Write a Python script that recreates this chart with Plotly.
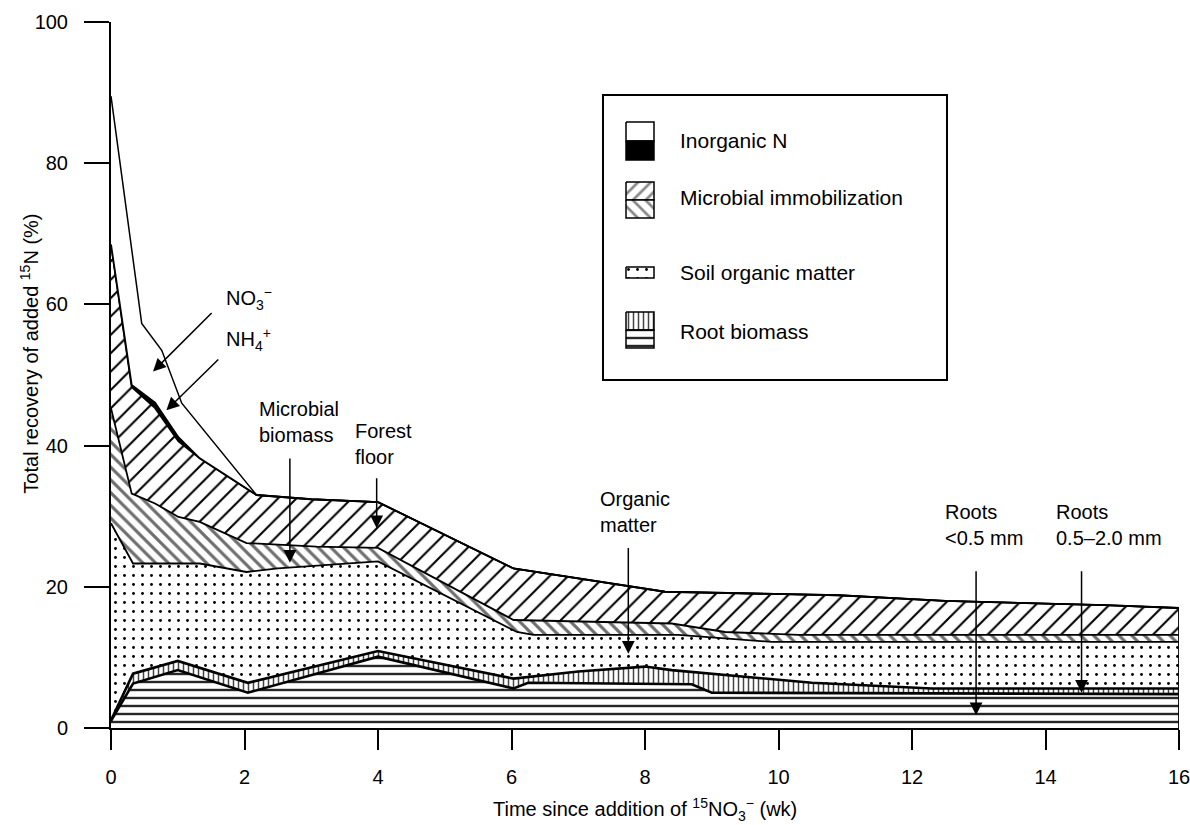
import plotly.graph_objects as go

FONT = "Liberation Sans, Arial, Helvetica, sans-serif"

# ---------------- data ----------------
# axis ticks
week_ticks = [0, 2, 4, 6, 8, 10, 12, 14, 16]
pct_ticks = [0, 20, 40, 60, 80, 100]

# upper boundary (cumulative % recovery) of each pool, stacked bottom -> top
roots_fine_t = [0, 0.33, 1.0, 2.05, 4.0, 6.03, 6.25, 8.7, 9.0, 16]
roots_fine_top = [1.0, 6.3, 8.2, 5.0, 10.1, 5.6, 6.4, 6.2, 5.0, 4.8]

roots_coarse_t = [0, 0.33, 1.0, 2.05, 4.0, 6.03, 7.0, 8.0, 8.4, 9.0, 10.0, 10.5, 12.3, 16]
roots_coarse_top = [1.1, 7.7, 9.5, 6.4, 10.9, 7.0, 8.0, 8.7, 8.2, 7.7, 6.8, 6.4, 5.6, 5.6]

som_t = [0, 0.33, 1.33, 2.03, 2.5, 4.0, 6.08, 6.33, 8.5, 9.9, 16]
som_top = [29.0, 23.3, 23.3, 22.1, 22.6, 23.6, 13.6, 13.2, 13.2, 12.2, 12.2]

microbial_t = [0, 0.31, 0.66, 1.01, 1.33, 2.03, 3.08, 4.0, 6.03, 8.4, 9.2, 10.3, 16]
microbial_top = [45.3, 33.2, 31.8, 29.9, 29.2, 26.2, 25.7, 25.5, 15.3, 14.8, 13.6, 13.2, 13.2]

forest_t = [0, 0.31, 0.66, 1.01, 1.33, 2.18, 3.0, 4.0, 6.03, 8.3, 10.9, 12.5, 14.9, 16]
forest_top = [68.5, 48.3, 45.3, 40.6, 38.2, 33.0, 32.4, 32.0, 22.6, 19.3, 18.8, 18.0, 17.4, 17.0]

nh4_t = [0.31, 0.66, 1.01, 1.33]
nh4_thickness = [0.3, 0.8, 0.6, 0.0]

no3_t = [0, 0.46, 0.76, 1.06, 2.18]
no3_top = [89.5, 57.3, 53.5, 46.0, 33.0]

# derived boundaries for the inorganic N bands
nh4_map = dict(zip(nh4_t, nh4_thickness))
nh4_top_t = list(forest_t)
nh4_top = [v + nh4_map.get(t, 0.0) for t, v in zip(forest_t, forest_top)]
inorg_t = no3_t + [t for t in forest_t if t > no3_t[-1]]
inorg_top = no3_top + [v for t, v in zip(forest_t, forest_top) if t > no3_t[-1]]

# ---------------- styles ----------------
PAT_HLINE = dict(shape="-", fgcolor="#262626", bgcolor="white", size=8, solidity=0.3, fgopacity=1)
PAT_VLINE = dict(shape="|", fgcolor="#444444", bgcolor="white", size=5, solidity=0.3, fgopacity=1)
PAT_DOT = dict(shape=".", fgcolor="black", bgcolor="white", size=9, solidity=0.08, fgopacity=1)
PAT_BACK = dict(shape="\\", fgcolor="#6e6e6e", bgcolor="white", size=9, solidity=0.35, fgopacity=1)
PAT_FWD = dict(shape="/", fgcolor="black", bgcolor="white", size=13, solidity=0.16, fgopacity=1)

layers = [
    ("Roots <0.5 mm", roots_fine_t, roots_fine_top, PAT_HLINE, None, 2.6),
    ("Roots 0.5-2.0 mm", roots_coarse_t, roots_coarse_top, PAT_VLINE, None, 2.6),
    ("Soil organic matter", som_t, som_top, PAT_DOT, None, 1.8),
    ("Microbial biomass", microbial_t, microbial_top, PAT_BACK, None, 1.8),
    ("Forest floor", forest_t, forest_top, PAT_FWD, None, 1.8),
    ("NH4+", nh4_top_t, nh4_top, None, "black", 1.8),
    ("NO3-", inorg_t, inorg_top, None, "white", 1.5),
]

fig = go.Figure()
for i, (name, t, top, pat, solid, lw) in enumerate(layers):
    kw = dict(x=t, y=top, mode="lines", name=name,
              line=dict(color="black", width=lw),
              fill="tozeroy" if i == 0 else "tonexty",
              hoverinfo="skip", showlegend=False)
    if pat is not None:
        kw["fillcolor"] = "white"
        kw["fillpattern"] = pat
    else:
        kw["fillcolor"] = solid
    fig.add_trace(go.Scatter(**kw))

# right-hand closing edge at the last sampling date
fig.add_trace(go.Scatter(x=[inorg_t[-1], inorg_t[-1]], y=[0, inorg_top[-1]],
                         mode="lines", line=dict(color="black", width=1.8),
                         hoverinfo="skip", showlegend=False))

# ---------------- legend box (pixel overlay axes, page pixels) ----------------
def rect(x0, y0, x1, y1):
    return [x0, x1, x1, x0, x0], [y0, y0, y1, y1, y0]

legend_symbols = [
    ((626, 122, 654, 141), None, "white"),
    ((626, 141, 654, 160), None, "black"),
    ((626, 182, 654, 200), PAT_FWD, None),
    ((626, 200, 654, 218), PAT_BACK, None),
    ((626, 267, 654, 278), PAT_DOT, None),
    ((626, 312, 654, 330), PAT_VLINE, None),
    ((626, 330, 654, 348), PAT_HLINE, None),
]
for (x0, y0, x1, y1), pat, solid in legend_symbols:
    xs, ys = rect(x0, y0, x1, y1)
    kw = dict(x=xs, y=ys, xaxis="x2", yaxis="y2", mode="lines", fill="toself",
              line=dict(color="black", width=1.5), hoverinfo="skip", showlegend=False)
    if pat is not None:
        p = dict(pat)
        if p["shape"] in ("/", "\\"):
            p["size"] = 9
            p["fgcolor"] = "#888888"
            p["solidity"] = 0.3
        kw["fillcolor"] = "white"
        kw["fillpattern"] = p
    else:
        kw["fillcolor"] = solid
    fig.add_trace(go.Scatter(**kw))

legend_texts = [
    ("Inorganic N", 140),
    ("Microbial immobilization", 197),
    ("Soil organic matter", 272),
    ("Root biomass", 331),
]

annotations = []
for txt, ypix in legend_texts:
    annotations.append(dict(text=txt, x=678, y=ypix, xref="x2", yref="y2",
                            xanchor="left", yanchor="middle", showarrow=False,
                            font=dict(family=FONT, size=21, color="black")))

# ---------------- in-plot labels and arrows ----------------
labels = [
    ("NO<sub>3</sub><sup>\u2212</sup>", 1.69, 60.9),
    ("NH<sub>4</sub><sup>+</sup>", 1.69, 55.0),
    ("Microbial<br>biomass", 2.18, 43.4),
    ("Forest<br>floor", 3.63, 40.2),
    ("Organic<br>matter", 7.30, 30.6),
    ("Roots<br><0.5 mm", 12.46, 28.7),
    ("Roots<br>0.5\u20132.0 mm", 14.12, 28.7),
]
for txt, tx, vy in labels:
    annotations.append(dict(text=txt, x=tx, y=vy, xref="x", yref="y",
                            xanchor="left", yanchor="middle", align="left",
                            showarrow=False,
                            font=dict(family=FONT, size=20, color="black")))

arrows = [  # tail (t, v) -> head (t, v)
    (1.53, 59.0, 0.63, 50.5),
    (1.63, 52.4, 0.83, 45.0),
    (2.68, 38.4, 2.68, 23.4),
    (3.98, 35.6, 3.98, 28.3),
    (7.75, 25.7, 7.75, 10.5),
    (12.96, 22.4, 12.96, 1.8),
    (14.54, 22.4, 14.54, 5.0),
]
for t0, v0, t1, v1 in arrows:
    annotations.append(dict(text="", x=t1, y=v1, ax=t0, ay=v0,
                            xref="x", yref="y", axref="x", ayref="y",
                            showarrow=True, arrowhead=2, arrowsize=1.7,
                            arrowwidth=1.5, arrowcolor="black", standoff=0))

# axis titles
annotations.append(dict(text="Time since addition of <sup>15</sup>NO<sub>3</sub><sup>\u2212</sup> (wk)",
                        x=0.5, y=-0.116, xref="paper", yref="paper",
                        xanchor="center", yanchor="middle", showarrow=False,
                        font=dict(family=FONT, size=20, color="black")))
annotations.append(dict(text="Total recovery of added <sup>15</sup>N (%)",
                        x=-0.076, y=0.53, xref="paper", yref="paper",
                        xanchor="center", yanchor="middle", textangle=-90,
                        showarrow=False, font=dict(family=FONT, size=20, color="black")))

fig.update_layout(
    width=1190, height=825,
    margin=dict(l=111, r=11, t=22, b=97),
    paper_bgcolor="white", plot_bgcolor="white",
    font=dict(family=FONT, size=20, color="black"),
    xaxis=dict(range=[0, 16], tickvals=week_ticks, ticks="outside", ticklen=20,
               tickwidth=2, tickcolor="black", showline=True, linewidth=2,
               linecolor="black", showgrid=False, zeroline=False,
               ticklabeloverflow="allow", automargin=False,
               tickfont=dict(family=FONT, size=20), ticklabelstandoff=10),
    yaxis=dict(range=[0, 100], tickvals=pct_ticks, ticks="outside", ticklen=25,
               tickwidth=2, tickcolor="black", showline=True, linewidth=2,
               linecolor="black", showgrid=False, zeroline=False,
               ticklabeloverflow="allow", automargin=False,
               tickfont=dict(family=FONT, size=20), ticklabelstandoff=12),
    xaxis2=dict(overlaying="x", anchor="y2", range=[111, 1179], visible=False),
    yaxis2=dict(overlaying="y", anchor="x2", range=[728, 22], visible=False),
    shapes=[dict(type="rect", xref="x2", yref="y2", x0=603, y0=95, x1=947, y1=380,
                 line=dict(color="black", width=2))],
    annotations=annotations,
)

# remove the default page margin so the 1190x825 figure fills the window exactly
fig.write_html("out.html",
               config={"displayModeBar": False},
               post_script="document.body.style.margin='0';document.body.style.overflow='hidden';")
